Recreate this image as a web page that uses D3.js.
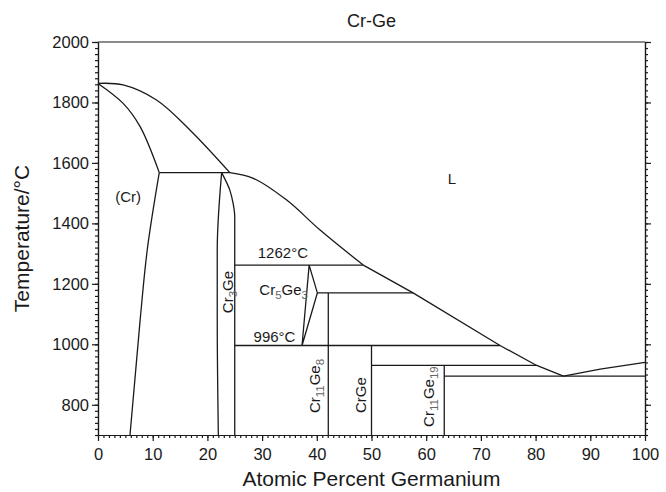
<!DOCTYPE html>
<html>
<head>
<meta charset="utf-8">
<script src="https://cdn.jsdelivr.net/npm/d3@7"></script>
<style>
  body { margin: 0; background: #fff; }
  svg { display: block; font-family: "Liberation Sans", Arial, sans-serif; }
</style>
</head>
<body>
<div id="chart"></div>
<script>
// phase boundaries, [at% Ge, °C]
const liquidusCr = [[0, 1863], [4.6, 1858], [10.7, 1808], [16.8, 1709], [24.1, 1568]];
const solidusCr = [[0, 1863], [4.6, 1797], [7.7, 1720], [11.2, 1568]];
const solvusCr = [[11.2, 1568], [9.0, 1312], [7.7, 1080], [5.85, 700]];
const cr3GeLeft = [[22.6, 1568], [21.8, 1312], [21.8, 1080], [22.0, 700]];
const cr3GeRight = [[22.6, 1568], [24.1, 1510], [24.7, 1466], [25.0, 1422], [25.0, 700]];
const liquidusMid = [[24.1, 1568], [28.4, 1549], [34.5, 1477], [40.6, 1378], [48.5, 1262]];
const liquidusLow = [[48.5, 1262], [57.6, 1170], [73.5, 996], [80.2, 930], [85.1, 895]];
const liquidusGe = [[85.1, 895], [91.8, 918], [100, 940]];
const cr5Ge3High = [[38.6, 1262], [40.1, 1170], [37.3, 996], [38.6, 1262]];

// horizontal invariant lines [x1, x2, T]
const invariants = [
  [11.2, 24.1, 1568],
  [25, 48.5, 1262],
  [40.1, 57.6, 1170],
  [25, 73.5, 996],
  [50, 80.2, 930],
  [63.3, 100, 895]
];
// line compounds [x, top T]
const compounds = [[42.1, 1170], [50, 996], [63.3, 930]];

const xTicks = d3.range(0, 101, 10);
const yTicks = d3.range(800, 2001, 200);

const regionLabels = [
  { parts: [["(Cr)"]], x: 5.5, t: 1471, anchor: "middle" },
  { parts: [["L"]], x: 64.7, t: 1530, anchor: "middle" },
  { parts: [["1262°C"]], x: 33.8, t: 1284, anchor: "middle" },
  { parts: [["996°C"]], x: 36.1, t: 1009, anchor: "end" },
  { parts: [["Cr"], ["5", "sub"], ["Ge"], ["3", "sub"]], x: 29.5, t: 1163, anchor: "start" }
];
const phaseLabels = [
  { parts: [["Cr"], ["3", "sub"], ["Ge"]], x: 24.7, t: 1173 },
  { parts: [["Cr"], ["11", "sub"], ["Ge"], ["8", "sub"]], x: 40.6, t: 862 },
  { parts: [["CrGe"]], x: 49.0, t: 832 },
  { parts: [["Cr"], ["11", "sub"], ["Ge"], ["19", "sub"]], x: 61.4, t: 827 }
];

const W = 666, H = 492;
const margin = { top: 42, right: 21, bottom: 57, left: 98 };
const ink = "#1a1a1a";

const svg = d3.select("#chart").append("svg")
  .attr("width", W).attr("height", H);

const x = d3.scaleLinear().domain([0, 100]).range([margin.left, W - margin.right]);
const y = d3.scaleLinear().domain([700, 2000]).range([H - margin.bottom, margin.top]);

// axes
function styleAxis(g) {
  g.selectAll("path, line").attr("stroke", ink).attr("stroke-width", 1.2);
  g.selectAll("text").attr("fill", ink).style("font-size", "16.5px");
}

svg.append("g")
  .attr("transform", `translate(0,${y(700)})`)
  .call(d3.axisBottom(x).tickValues(d3.range(0, 101, 1)).tickSize(3).tickFormat("").tickSizeOuter(0))
  .call(styleAxis);
svg.append("g")
  .attr("transform", `translate(0,${y(700)})`)
  .call(d3.axisBottom(x).tickValues(xTicks).tickSize(6).tickPadding(7).tickFormat(d3.format("d")).tickSizeOuter(0))
  .call(styleAxis);

svg.append("g")
  .attr("transform", `translate(${x(0)},0)`)
  .call(d3.axisLeft(y).tickValues(d3.range(700, 2001, 20)).tickSize(3).tickFormat("").tickSizeOuter(0))
  .call(styleAxis);
svg.append("g")
  .attr("transform", `translate(${x(0)},0)`)
  .call(d3.axisLeft(y).tickValues(yTicks).tickSize(6).tickPadding(3).tickFormat(d3.format("d")).tickSizeOuter(0))
  .call(styleAxis);

svg.append("g")
  .attr("transform", `translate(${x(100)},0)`)
  .call(d3.axisRight(y).tickValues(d3.range(700, 2001, 20)).tickSize(3).tickFormat("").tickSizeOuter(0))
  .call(styleAxis);
svg.append("g")
  .attr("transform", `translate(${x(100)},0)`)
  .call(d3.axisRight(y).tickValues(yTicks).tickSize(6).tickFormat("").tickSizeOuter(0))
  .call(styleAxis);

svg.append("line")
  .attr("x1", x(0)).attr("x2", x(100))
  .attr("y1", y(2000)).attr("y2", y(2000))
  .attr("stroke", ink).attr("stroke-width", 1.2);

// titles
svg.append("text")
  .attr("x", (x(0) + x(100)) / 2).attr("y", 27)
  .attr("text-anchor", "middle")
  .style("font-size", "18px").attr("fill", ink)
  .text("Cr-Ge");

svg.append("text")
  .attr("x", (x(0) + x(100)) / 2).attr("y", 486)
  .attr("text-anchor", "middle")
  .style("font-size", "21px").attr("fill", ink)
  .text("Atomic Percent Germanium");

svg.append("text")
  .attr("transform", `translate(29,${(y(700) + y(2000)) / 2}) rotate(-90)`)
  .attr("text-anchor", "middle")
  .style("font-size", "21px").attr("fill", ink)
  .text("Temperature/°C");

// phase lines
const plot = svg.append("g")
  .attr("fill", "none")
  .attr("stroke", ink)
  .attr("stroke-width", 1.3);

const curved = d3.line().x(d => x(d[0])).y(d => y(d[1])).curve(d3.curveCatmullRom.alpha(0.5));
const steep = d3.line().x(d => x(d[0])).y(d => y(d[1])).curve(d3.curveMonotoneY);
const straight = d3.line().x(d => x(d[0])).y(d => y(d[1]));

[liquidusCr, solidusCr, liquidusMid].forEach(pts => {
  plot.append("path").attr("d", curved(pts));
});
[solvusCr, cr3GeLeft, cr3GeRight].forEach(pts => {
  plot.append("path").attr("d", steep(pts));
});
[liquidusLow, liquidusGe, cr5Ge3High].forEach(pts => {
  plot.append("path").attr("d", straight(pts));
});

plot.selectAll(".inv")
  .data(invariants)
  .enter()
  .append("line")
  .attr("x1", d => x(d[0])).attr("x2", d => x(d[1]))
  .attr("y1", d => y(d[2])).attr("y2", d => y(d[2]));

plot.selectAll(".cmp")
  .data(compounds)
  .enter()
  .append("line")
  .attr("x1", d => x(d[0])).attr("x2", d => x(d[0]))
  .attr("y1", d => y(d[1])).attr("y2", y(700));

// labels, subscripts drop 4px and are grey
function addParts(text, parts) {
  let shifted = false;
  parts.forEach(p => {
    const span = text.append("tspan").text(p[0]);
    if (p[1] === "sub") {
      span.attr("dy", shifted ? 0 : 4).style("font-size", "11.5px").attr("fill", "#666");
      shifted = true;
    } else {
      if (shifted) span.attr("dy", -4);
      shifted = false;
    }
  });
}

regionLabels.forEach(l => {
  const t = svg.append("text")
    .attr("x", x(l.x)).attr("y", y(l.t))
    .attr("text-anchor", l.anchor)
    .style("font-size", "15px").attr("fill", ink);
  addParts(t, l.parts);
});

phaseLabels.forEach(l => {
  const t = svg.append("text")
    .attr("transform", `translate(${x(l.x)},${y(l.t)}) rotate(-90)`)
    .attr("text-anchor", "middle")
    .style("font-size", "15px").attr("fill", ink);
  addParts(t, l.parts);
});
</script>
</body>
</html>
